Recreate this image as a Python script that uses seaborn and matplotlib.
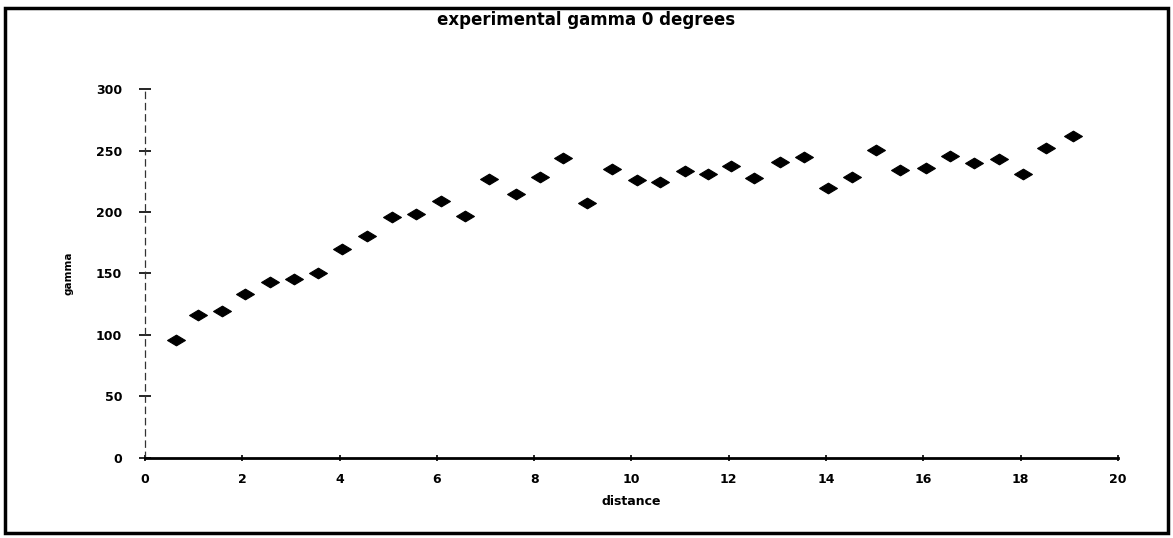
import matplotlib
matplotlib.use("Agg")
import matplotlib.pyplot as plt
from matplotlib.path import Path
from matplotlib.patches import Rectangle
import seaborn as sns
import pandas as pd

# lag distance and experimental semivariance (gamma)
distance = [0.64, 1.08, 1.58, 2.06, 2.56, 3.06, 3.55, 4.04, 4.56, 5.08,
            5.58, 6.08, 6.58, 7.07, 7.62, 8.11, 8.59, 9.09, 9.59, 10.11,
            10.59, 11.09, 11.57, 12.04, 12.52, 13.06, 13.55, 14.03, 14.53, 15.03,
            15.52, 16.05, 16.55, 17.05, 17.55, 18.05, 18.53, 19.07]
gamma = [95.8, 116.1, 119.4, 133.3, 142.8, 145.2, 150.1, 169.7, 180.8, 196.2,
         198.7, 208.8, 196.8, 226.7, 214.7, 228.9, 244.0, 207.7, 235.1, 226.2,
         224.8, 233.2, 231.1, 237.3, 227.8, 241.1, 245.0, 219.9, 228.9, 250.4,
         234.1, 235.9, 245.5, 240.0, 243.3, 231.3, 252.2, 261.8]

x_ticks = [0, 2, 4, 6, 8, 10, 12, 14, 16, 18, 20]
y_ticks = [0, 50, 100, 150, 200, 250, 300]

df = pd.DataFrame({"distance": distance, "gamma": gamma})

sns.set_style("white")
plt.rcParams["font.family"] = ["DejaVu Sans"]
plt.rcParams["text.color"] = "black"
plt.rcParams["axes.labelcolor"] = "black"
plt.rcParams["xtick.color"] = "black"
plt.rcParams["ytick.color"] = "black"

fig = plt.figure(figsize=(11.73, 5.38), dpi=100)
ax = fig.add_axes([0.1236, 0.1496, 0.8295, 0.6844])

# flattened diamond marker
diamond = Path([(-1.0, 0.0), (0.0, 0.6), (1.0, 0.0), (0.0, -0.6), (-1.0, 0.0)],
               [Path.MOVETO, Path.LINETO, Path.LINETO, Path.LINETO, Path.CLOSEPOLY])

sns.scatterplot(data=df, x="distance", y="gamma", ax=ax, marker=diamond,
                s=165, color="black", edgecolor="black", linewidth=0.8,
                legend=False, zorder=3)

ax.set_xlim(0, 20)
ax.set_ylim(0, 300)
ax.set_xticks(x_ticks)
ax.set_yticks(y_ticks)
ax.set_xticklabels([str(t) for t in x_ticks], fontsize=9, fontweight="bold")
ax.set_yticklabels([str(t) for t in y_ticks], fontsize=9, fontweight="bold")
ax.tick_params(axis="x", bottom=True, direction="inout", length=5, width=1.2,
               color="black", labelcolor="black", pad=9)
ax.tick_params(axis="y", left=True, direction="inout", length=9, width=1.2,
               color="black", labelcolor="black", pad=12)

for side in ("top", "right"):
    ax.spines[side].set_visible(False)
ax.spines["bottom"].set_linewidth(2.0)
ax.spines["bottom"].set_color("black")
ax.spines["left"].set_linewidth(0.9)
ax.spines["left"].set_color("#333333")
ax.spines["left"].set_linestyle((0, (5, 4)))

ax.set_xlabel("distance", fontsize=9, fontweight="bold", labelpad=6, color="black")
ax.set_ylabel("gamma", fontsize=7.5, fontweight="bold", labelpad=16, color="black")
ax.grid(False)

fig.text(0.5, 0.962, "experimental gamma 0 degrees", ha="center", va="center",
         fontsize=12, fontweight="bold", color="black")

# outer chart frame
fig.patches.append(Rectangle((0.0045, 0.01), 0.9915, 0.975, transform=fig.transFigure,
                             fill=False, edgecolor="black", linewidth=2.5))

fig.savefig("out.png", dpi=100, facecolor="white")
